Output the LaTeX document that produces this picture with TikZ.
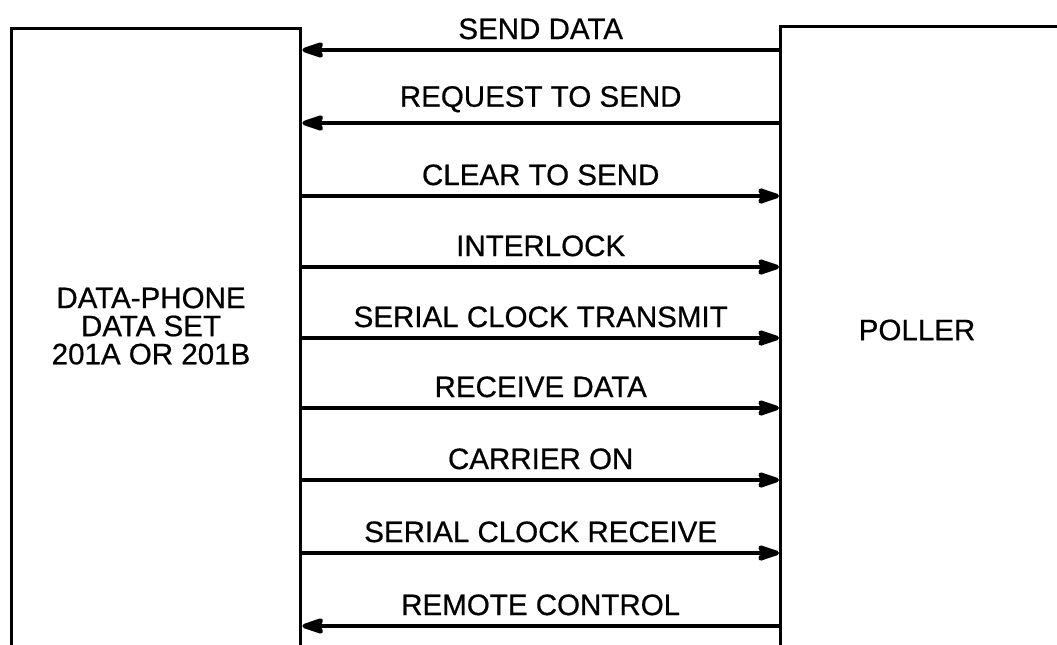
\documentclass[tikz,border=0pt]{standalone}
\usepackage{fontspec}
\setmainfont{Liberation Sans}
\newfontfamily\diagfont[FakeBold=0.6]{Liberation Sans}
\usetikzlibrary{arrows.meta,positioning}

\begin{document}
\begin{tikzpicture}[
  x=0.025cm, y=-0.025cm,
  unit/.style={draw, line width=2.4pt, minimum width=#1*0.025cm, minimum height=680*0.025cm,
               inner sep=0pt, anchor=north west},
  sig/.style={line width=3.2pt, -{Stealth[length=6.8mm, width=4.4mm, inset=1mm, round]}},
  siglabel/.style={font=\diagfont\fontsize{21}{24}\selectfont, above=6pt, midway, inner sep=0pt},
  boxtext/.style={font=\diagfont\fontsize{21}{20}\selectfont, align=center}
]
\clip (0,0) rectangle (1057,644);

\node[unit=289] (dataset) at (10,27) {};
\node[unit=320] (poller) at (779,25) {};

\node[boxtext] (dslabel) at (151,326) {DATA-PHONE\\DATA SET\\201A OR 201B};
\node[boxtext] (plabel) at (917,330) {POLLER};

% signals, poller to data set
\draw[sig] (poller.west |- 0,50) -- (dataset.east |- 0,50) node[siglabel] {SEND DATA};
\draw[sig] (poller.west |- 0,123) -- (dataset.east |- 0,123) node[siglabel] {REQUEST TO SEND};
\draw[sig] (poller.west |- 0,626) -- (dataset.east |- 0,626) node[siglabel] {REMOTE CONTROL};

% signals, data set to poller
\draw[sig] (dataset.east |- 0,196) -- (poller.west |- 0,196) node[siglabel] {CLEAR TO SEND};
\draw[sig] (dataset.east |- 0,267) -- (poller.west |- 0,267) node[siglabel] {INTERLOCK};
\draw[sig] (dataset.east |- 0,338) -- (poller.west |- 0,338) node[siglabel] {SERIAL CLOCK TRANSMIT};
\draw[sig] (dataset.east |- 0,408) -- (poller.west |- 0,408) node[siglabel] {RECEIVE DATA};
\draw[sig] (dataset.east |- 0,480) -- (poller.west |- 0,480) node[siglabel] {CARRIER ON};
\draw[sig] (dataset.east |- 0,553) -- (poller.west |- 0,553) node[siglabel] {SERIAL CLOCK RECEIVE};

\end{tikzpicture}
\end{document}
